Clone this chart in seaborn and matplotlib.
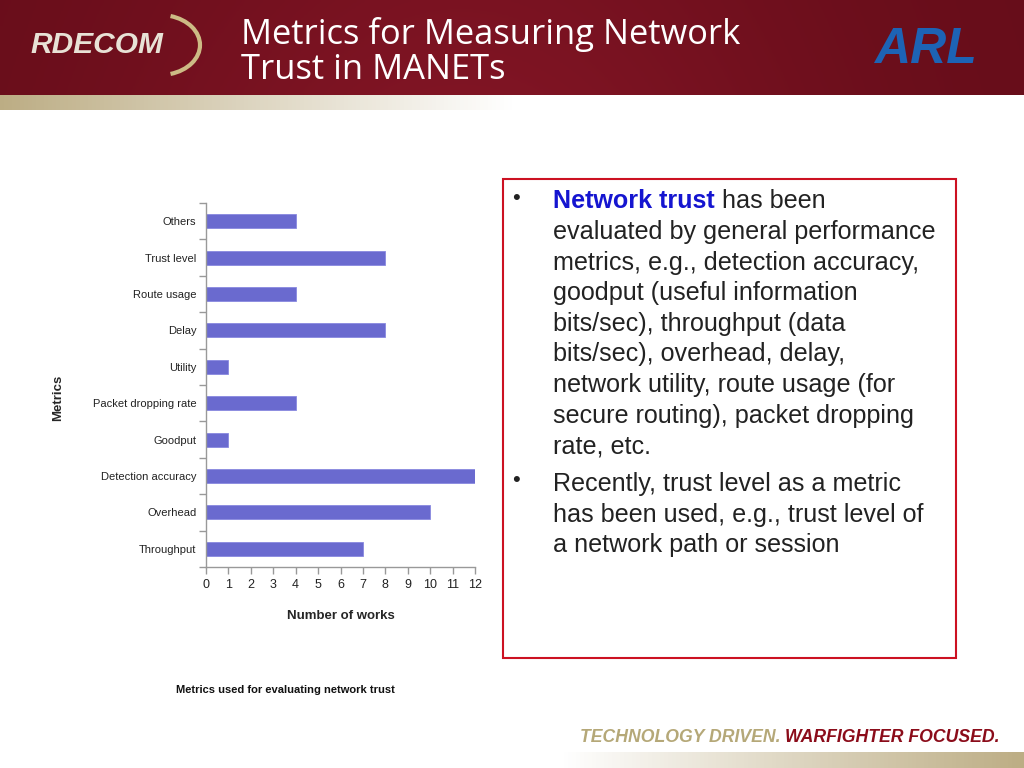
import numpy as np
import matplotlib
matplotlib.use('Agg')
import matplotlib.pyplot as plt
from matplotlib.patches import Rectangle, Arc
import seaborn as sns

sns.set_theme(style="white")
plt.rcParams['font.family'] = ['Liberation Sans', 'DejaVu Sans']

# data
metrics = ['Others', 'Trust level', 'Route usage', 'Delay', 'Utility',
           'Packet dropping rate', 'Goodput', 'Detection accuracy',
           'Overhead', 'Throughput']
works = [4, 8, 4, 8, 1, 4, 1, 12, 10, 7]
x_ticks = list(range(0, 13))

title_lines = ['Metrics for Measuring Network', 'Trust in MANETs']
bullet1_bold = 'Network trust'
bullet1_lines = [' has been', 'evaluated by general performance',
                 'metrics, e.g., detection accuracy,',
                 'goodput (useful information',
                 'bits/sec), throughput (data',
                 'bits/sec), overhead, delay,',
                 'network utility, route usage (for',
                 'secure routing), packet dropping', 'rate, etc.']
bullet2_lines = ['Recently, trust level as a metric',
                 'has been used, e.g., trust level of',
                 'a network path or session']

fig = plt.figure(figsize=(10.24, 7.68), dpi=100)

# --- slide background (pixel coords) ---
bg = fig.add_axes([0, 0, 1, 1], zorder=-1)
bg.set_xlim(0, 1024)
bg.set_ylim(768, 0)
bg.axis('off')

# red header band
gx = np.linspace(0, 1, 256)
gy = np.linspace(0, 1, 32)[:, None]
dark = np.array([0.40, 0.05, 0.10])
mid = np.array([0.50, 0.08, 0.14])
w = np.exp(-((gx - 0.45) / 0.35) ** 2)[None, :, None]
band = dark + (mid - dark) * w * (0.8 + 0.2 * gy[..., None])
bg.imshow(band, extent=(0, 1024, 95, 0), aspect='auto', zorder=0)

# gold strip under header
tan = np.array([0.74, 0.68, 0.52])
fade = np.clip(1 - gx / 0.5, 0, 1)[None, :, None]
strip = 1 - (1 - tan) * fade
bg.imshow(strip, extent=(0, 1024, 110, 95), aspect='auto', zorder=0)

# footer strip
fade2 = np.clip((gx - 0.55) / 0.45, 0, 1)[None, :, None]
strip2 = 1 - (1 - tan) * fade2
bg.imshow(strip2, extent=(0, 1024, 768, 752), aspect='auto', zorder=0)

# logos as text
bg.text(30, 45, 'RDECOM', fontsize=21.5, fontweight='bold', style='italic',
        color='#e8e2d6', va='center', ha='left')
bg.add_patch(Arc((160, 45), 80, 60, theta1=-70, theta2=70, color='#cdbb85', lw=3))
bg.text(925, 50, 'ARL', fontsize=36, fontweight='bold', style='italic',
        color='#1d63b5', va='center', ha='center')

# title
bg.text(241, 34, title_lines[0], fontsize=24.8, color='white', va='center',
        ha='left', family=['Open Sans', 'DejaVu Sans'])
bg.text(241, 70, title_lines[1], fontsize=24.8, color='white', va='center',
        ha='left', family=['Open Sans', 'DejaVu Sans'])

# footer tagline
t1 = bg.text(580, 738, 'TECHNOLOGY DRIVEN. ', fontsize=12.7, fontweight='bold',
             style='italic', color='#b5a878', va='center', ha='left')
fig.canvas.draw()
x_end = bg.transData.inverted().transform((t1.get_window_extent().x1, 0))[0]
bg.text(x_end, 738, 'WARFIGHTER FOCUSED.', fontsize=12.7, fontweight='bold',
        style='italic', color='#8b0c1a', va='center', ha='left')

# red text box
bg.add_patch(Rectangle((503, 179), 453, 479, fill=False, edgecolor='#cc1122', lw=1.5))
fs = 18.1
bg.text(512, 198, '•', fontsize=16, va='center', ha='left', color='#222222')
b = bg.text(553, 201, bullet1_bold, fontsize=fs, fontweight='bold', color='#1515d0',
            va='center', ha='left')
fig.canvas.draw()
x_end = bg.transData.inverted().transform((b.get_window_extent().x1, 0))[0]
bg.text(x_end, 201, bullet1_lines[0], fontsize=fs, color='#222222',
        va='center', ha='left')
for i, line in enumerate(bullet1_lines[1:]):
    bg.text(553, 232 + i * 30.6, line, fontsize=fs, color='#222222', va='center', ha='left')
bg.text(512, 480, '•', fontsize=16, va='center', ha='left', color='#222222')
for i, line in enumerate(bullet2_lines):
    bg.text(553, 484 + i * 30.6, line, fontsize=fs, color='#222222', va='center', ha='left')

# caption
bg.text(285, 690, 'Metrics used for evaluating network trust', fontsize=8,
        fontweight='bold', ha='center', va='center', color='#111111')

# --- bar chart ---
ax = fig.add_axes([206 / 1024, 1 - 567 / 768, 269 / 1024, 364 / 768])
sns.barplot(x=works, y=metrics, orient='h', color='#6a6acf', saturation=1,
            width=0.39, ax=ax, edgecolor='#8888e0', linewidth=0.6)
ax.set_xlim(0, 12)
ax.set_ylim(len(metrics) - 0.5, -0.5)
ax.set_xticks(x_ticks)
ax.set_xticklabels([str(t) for t in x_ticks], fontsize=9, color='#222222')
ax.set_yticks(np.arange(len(metrics) + 1) - 0.5)
ax.set_yticklabels([])
ax.set_yticks(np.arange(len(metrics)), minor=True)
ax.set_yticklabels(metrics, minor=True, fontsize=8, color='#222222')
ax.tick_params(axis='y', which='major', left=True, length=5, color='#999999', width=1)
ax.tick_params(axis='y', which='minor', left=False, length=0, pad=7)
ax.tick_params(axis='x', bottom=True, length=5, color='#999999', width=1, pad=4)
for s in ['top', 'right']:
    ax.spines[s].set_visible(False)
for s in ['left', 'bottom']:
    ax.spines[s].set_color('#999999')
    ax.spines[s].set_linewidth(1)
ax.set_xlabel('Number of works', fontsize=9.5, fontweight='bold', labelpad=13)
ax.set_ylabel('')
fig.text(58 / 1024, 1 - 398 / 768, 'Metrics', rotation=90, fontsize=9.5,
         fontweight='bold', ha='center', va='center')

fig.savefig('out.png', dpi=100)
